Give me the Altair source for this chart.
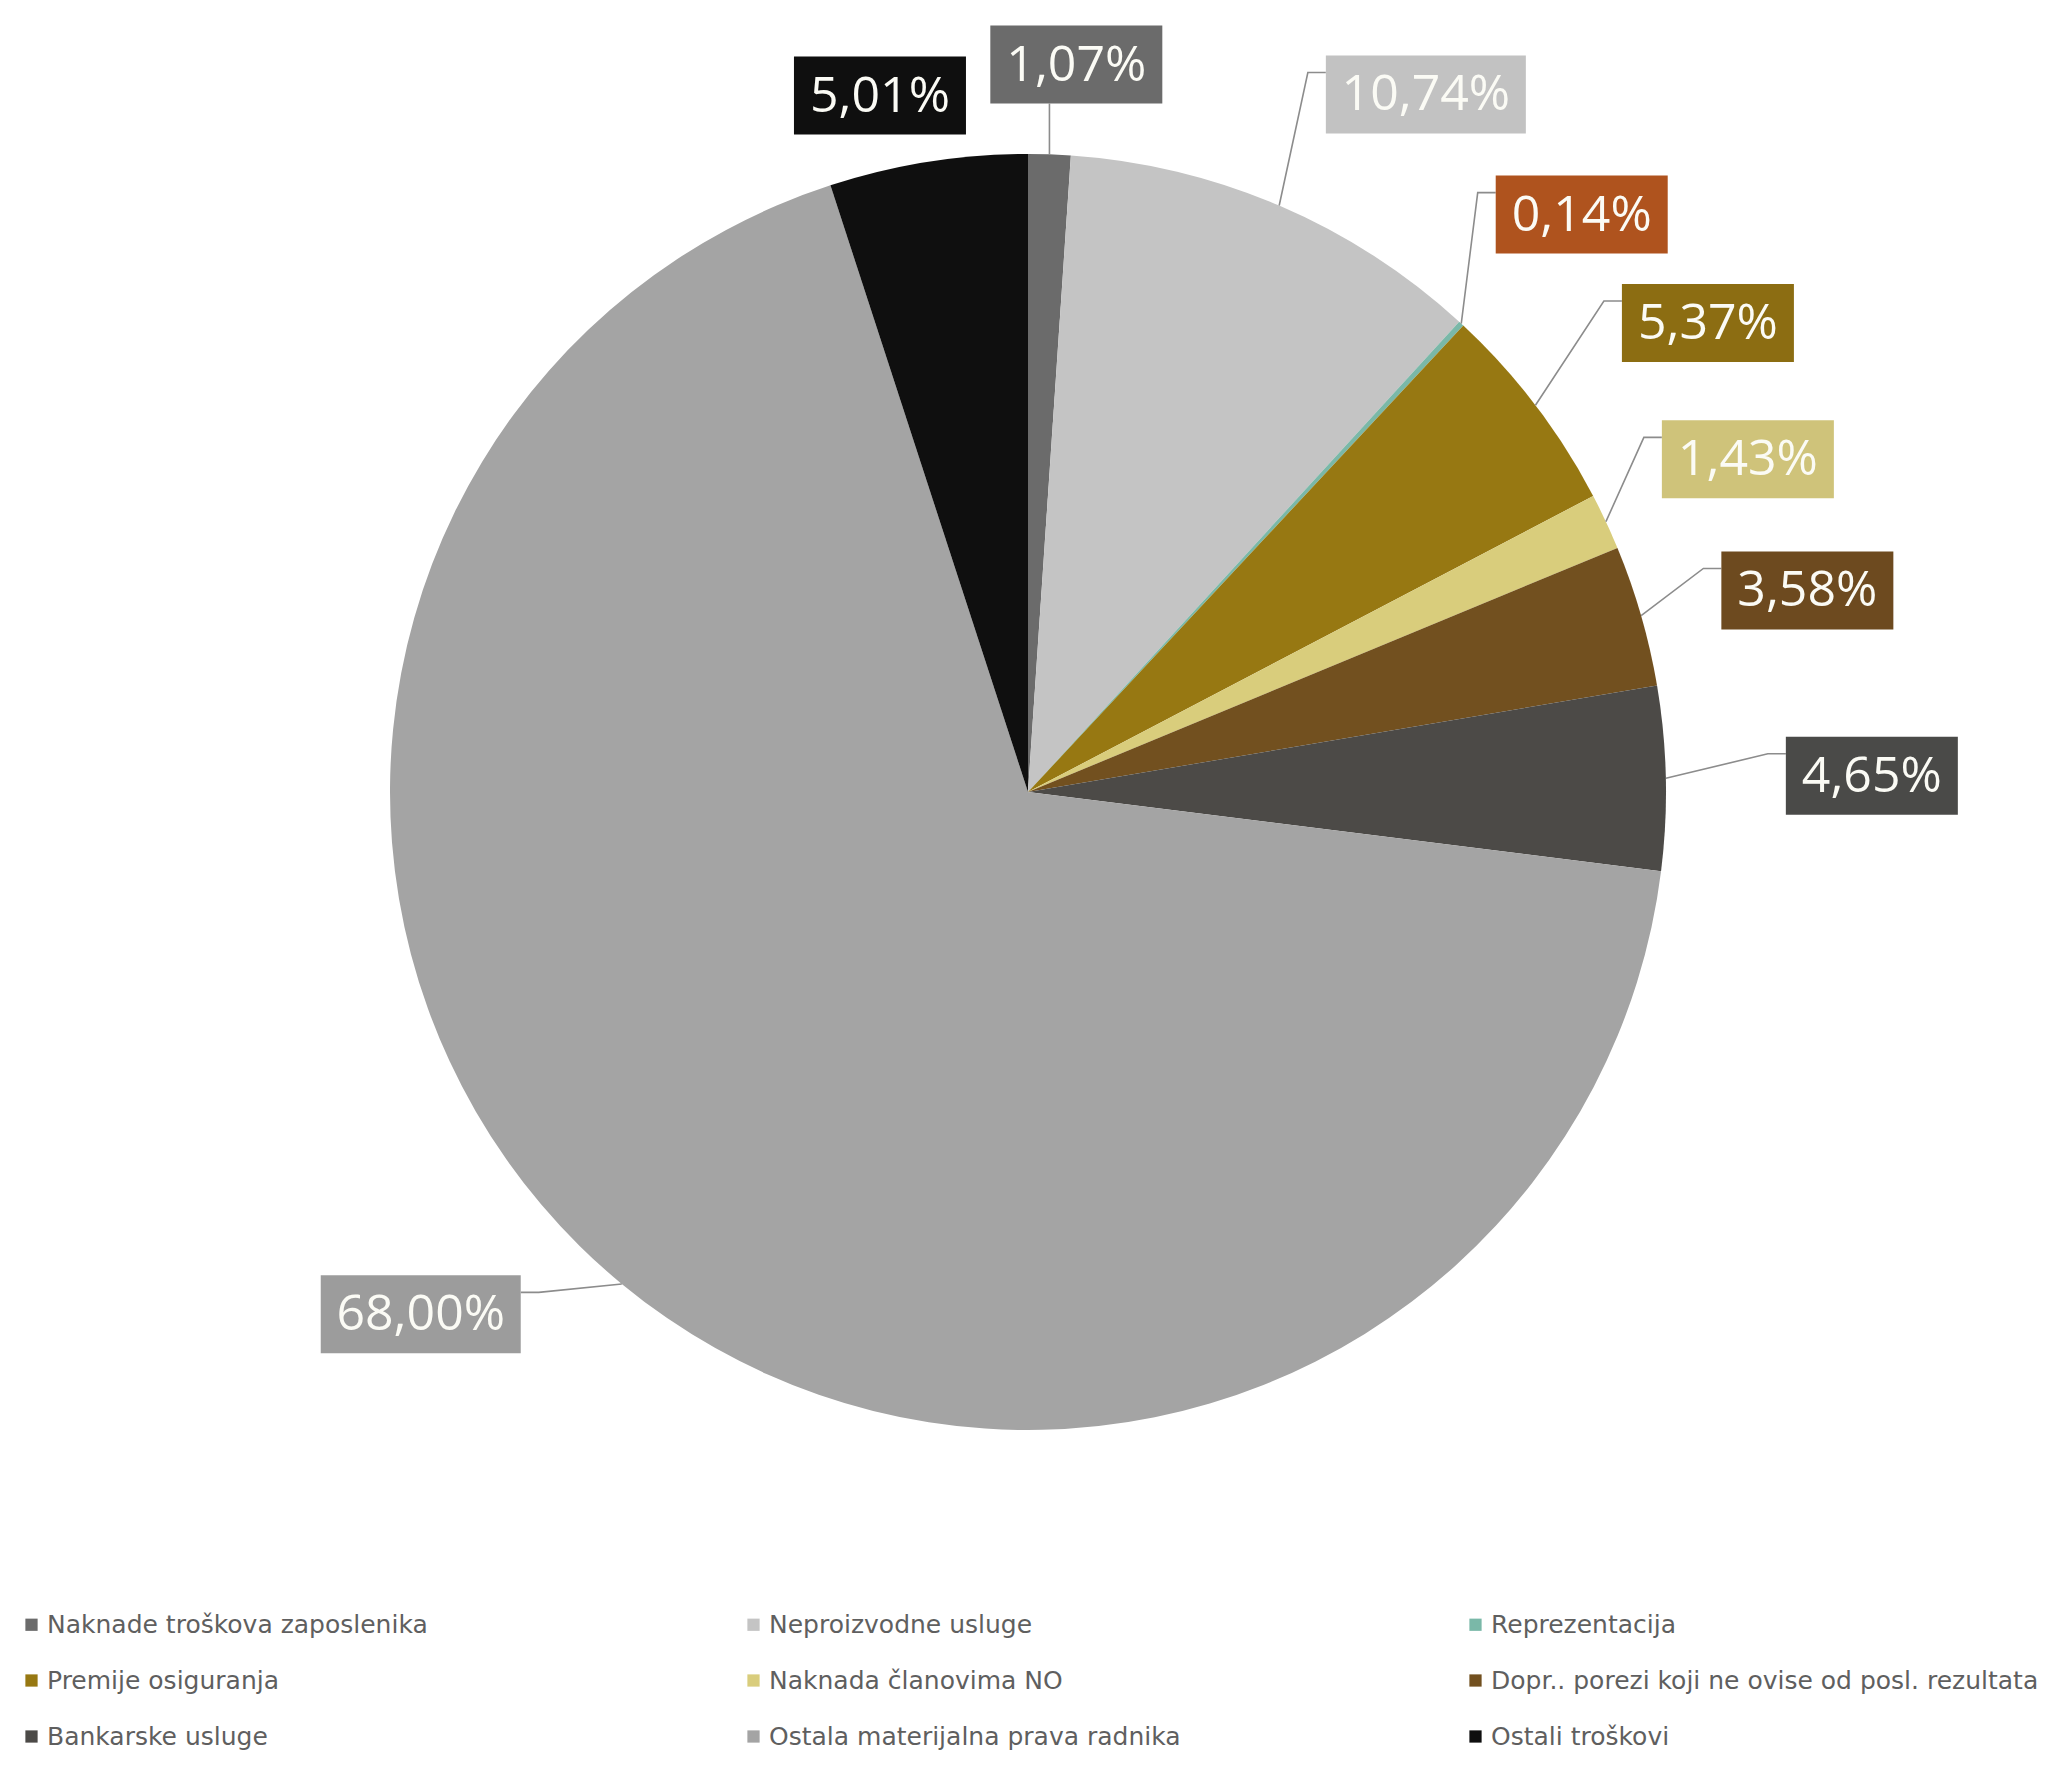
import math
import pandas as pd
import altair as alt

# ---- data ----
categories = [
    "Naknade troškova zaposlenika",
    "Neproizvodne usluge",
    "Reprezentacija",
    "Premije osiguranja",
    "Naknada članovima NO",
    "Dopr.. porezi koji ne ovise od posl. rezultata",
    "Bankarske usluge",
    "Ostala materijalna prava radnika",
    "Ostali troškovi",
]
values = [1.07, 10.74, 0.14, 5.37, 1.43, 3.58, 4.65, 68.00, 5.01]
value_labels = ["1,07%", "10,74%", "0,14%", "5,37%", "1,43%", "3,58%", "4,65%", "68,00%", "5,01%"]

# ---- styles ----
slice_colors = ["#6b6b6b", "#c4c4c4", "#7ab8a8", "#977812", "#d9cd7c",
                "#72501f", "#4c4a47", "#a4a4a4", "#0f0f0f"]
box_colors = ["#6b6b6b", "#c2c2c2", "#af531e", "#8c6d12", "#cfc37a",
              "#6d4a1f", "#4a4a48", "#9c9c9c", "#0f0f0f"]
# label placement (angle clockwise from 12 o'clock, distance from centre)
label_angle = [3.8, 29.7, 43.8, 55.4, 65.2, 75.5, 88.9, 229.3, 348.0]
label_radius = [729, 803, 800, 826, 793, 805, 844, 801, 712]
leader_kind = ["up", "right", "right", "right", "right", "right", "right", "left", "none"]

W, H = 2049, 1751
CX, CY, R = 1020, 784, 638
BOX_H = 78

total = sum(values)
rows, boxes, lines = [], [], []
cum = 0.0
for i, (c, v, lab) in enumerate(zip(categories, values, value_labels)):
    mid = (cum + v / 2) / total * 2 * math.pi
    cum += v
    rows.append({"idx": i, "cat": c, "value": v})
    ax = CX + R * math.sin(mid)
    ay = CY - R * math.cos(mid)
    la = math.radians(label_angle[i])
    bx = CX + label_radius[i] * math.sin(la)
    by = CY - label_radius[i] * math.cos(la)
    bw = 172 if len(lab) <= 5 else 200
    boxes.append({"idx": i, "x": bx - bw / 2, "x2": bx + bw / 2,
                  "y": by - BOX_H / 2, "y2": by + BOX_H / 2,
                  "cx": bx, "cy": by, "label": lab, "fill": box_colors[i]})
    k = leader_kind[i]
    if k == "up":
        pts = [(ax, ay), (ax, by + BOX_H / 2)]
    elif k == "right":
        ex = bx - bw / 2
        ey = by - BOX_H / 2 + 17
        pts = [(ax, ay), (ex - 18, ey), (ex, ey)]
    elif k == "left":
        ex = bx + bw / 2
        ey = by - BOX_H / 2 + 17
        pts = [(ax, ay), (ex + 18, ey), (ex, ey)]
    else:
        pts = []
    for j, (px, py) in enumerate(pts):
        lines.append({"idx": i, "o": j, "x": px, "y": py})

df = pd.DataFrame(rows)
bdf = pd.DataFrame(boxes)
ldf = pd.DataFrame(lines)

xs = alt.Scale(domain=[0, W], nice=False, zero=False)
ys = alt.Scale(domain=[0, H], nice=False, zero=False, reverse=True)

pie = alt.Chart(df).mark_arc(outerRadius=R, stroke=None).encode(
    theta=alt.Theta("value:Q", stack=True),
    order=alt.Order("idx:Q"),
    color=alt.Color(
        "cat:N",
        scale=alt.Scale(domain=categories, range=slice_colors),
        legend=alt.Legend(
            title=None, orient="none", legendX=11, legendY=1604,
            direction="horizontal",
            columns=3, gridAlign="all", columnPadding=146, rowPadding=30,
            symbolType="square", symbolSize=150, symbolStrokeWidth=0,
            labelFont="DejaVu Sans", labelFontSize=25, labelColor="#5f5f5f",
            labelLimit=1000, labelOffset=3, padding=0,
        ),
    ),
    x=alt.value(CX),
    y=alt.value(CY),
)

leaders = alt.Chart(ldf).mark_line(color="#8c8c8c", strokeWidth=1.6).encode(
    x=alt.X("x:Q", scale=xs, axis=None),
    y=alt.Y("y:Q", scale=ys, axis=None),
    detail="idx:N",
    order="o:Q",
)

rects = alt.Chart(bdf).mark_rect().encode(
    x=alt.X("x:Q", scale=xs, axis=None),
    x2="x2:Q",
    y=alt.Y("y:Q", scale=ys, axis=None),
    y2="y2:Q",
    fill=alt.Fill("fill:N", scale=None),
)

texts = alt.Chart(bdf).mark_text(
    font="Open Sans", fontSize=50, color="#fbfbf5", align="center", baseline="middle", dy=1
).encode(
    x=alt.X("cx:Q", scale=xs, axis=None),
    y=alt.Y("cy:Q", scale=ys, axis=None),
    text="label:N",
)

chart = alt.layer(pie, leaders, rects, texts).properties(
    width=W, height=H, padding=0, autosize=alt.AutoSizeParams(type="none"),
    background="white",
).configure_view(stroke=None)

chart.save("out.html", embed_options={"renderer": "svg", "actions": False})
